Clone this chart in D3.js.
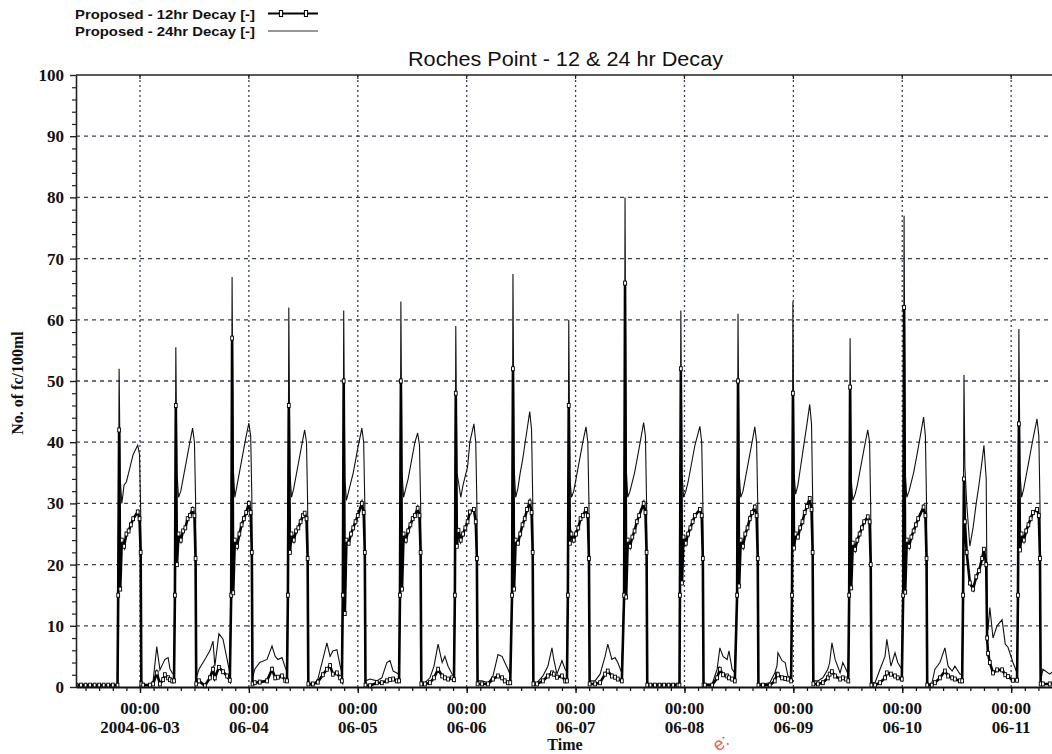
<!DOCTYPE html>
<html><head><meta charset="utf-8">
<script src="https://cdn.jsdelivr.net/npm/d3@7"></script>
<style>body{margin:0;background:#fff}svg{display:block}</style>
</head><body>
<svg id="chart" width="1052" height="754"></svg>
<script>
// time in hours from 2004-06-02 00:00
const hours = [
 10,11,12,13,14,15,16,17,18,19.05,
 19.2,19.4,19.65,20.0,20.5,21.0,21.5,22.0,22.5,23.5,23.9,24.15,24.3,
 24.7,26.2,26.9,27.7,28.4,29.1,29.5,30.2,30.6,31.1,31.5,
 31.7,31.9,32.15,32.5,33.0,33.5,34.0,34.5,35.0,35.6,36.0,36.25,36.4,
 37.0,38.3,39.4,40.1,40.5,41.4,42.3,43.2,43.8,
 44.1,44.3,44.55,44.9,45.4,45.9,46.4,46.9,47.4,48.0,48.4,48.65,48.8,
 49.3,50.4,52.0,53.1,53.8,54.4,55.3,56.0,56.4,
 56.6,56.8,57.05,57.4,57.9,58.4,58.9,59.4,59.9,60.3,60.7,60.95,61.1,
 62.1,63.2,64.3,65.2,65.9,66.5,67.4,68.1,68.5,
 68.7,68.9,69.15,69.5,70.0,70.5,71.0,71.5,72.0,72.9,73.3,73.55,73.7,
 74.7,76.2,77.3,78.4,79.1,79.8,80.6,81.1,
 81.3,81.5,81.75,82.1,82.6,83.1,83.6,84.1,84.6,85.2,85.6,85.85,86.0,
 86.8,87.9,88.8,89.7,90.6,91.2,91.9,92.8,93.2,
 93.4,93.6,93.85,94.2,94.7,95.2,95.7,96.2,96.7,97.6,98.0,98.25,98.4,
 99.4,100.7,101.8,102.9,103.8,104.4,105.1,105.6,
 106.0,106.2,106.45,106.8,107.3,107.8,108.3,108.8,109.3,109.9,110.3,110.55,110.7,
 111.5,112.8,113.9,114.8,115.2,115.9,117.0,117.7,118.1,
 118.3,118.5,118.75,119.1,119.6,120.1,120.6,121.1,121.6,122.3,122.7,122.95,123.1,
 124.3,125.4,126.5,127.1,128.0,128.7,129.3,130.2,
 130.7,130.9,131.15,131.5,132.0,132.5,133.0,133.5,134.0,135.0,135.4,135.65,135.8,
 136.5,137.5,138.5,139.5,140.5,141.5,142.5,142.9,
 143.0,143.2,143.45,143.8,144.3,144.8,145.3,145.8,146.3,147.4,147.8,148.05,148.2,
 148.5,150.1,151.2,151.8,152.5,153.4,153.8,154.5,155.1,
 155.6,155.8,156.05,156.4,156.9,157.4,157.9,158.4,158.9,159.5,159.9,160.15,160.3,
 161.3,162.8,163.9,164.4,164.6,165.5,166.2,166.8,167.5,
 167.7,167.9,168.15,168.5,169.0,169.5,170.0,170.5,171.0,171.6,172.0,172.25,172.4,
 173.4,174.5,175.6,176.0,176.5,177.2,178.3,178.9,179.6,180.1,
 180.3,180.5,180.75,181.1,181.6,182.1,182.6,183.1,183.6,184.4,184.8,185.05,185.2,
 186.0,187.1,188.2,188.6,189.5,190.4,191.0,191.9,
 192.2,192.4,192.65,193.0,193.5,194.0,194.5,195.0,195.5,196.7,197.1,197.35,197.5,
 198.5,199.2,200.3,201.4,202.1,203.0,203.6,204.7,205.2,
 205.4,205.6,205.8,206.2,206.9,207.6,208.3,208.9,209.6,210.0,210.5,210.7,210.9,211.3,212.0,212.9,214.0,214.7,215.3,216.4,217.3,
 217.5,217.7,217.95,218.3,218.8,219.3,219.8,220.3,220.8,221.7,222.1,222.35,222.5,
 223.0,224.5,226.0
];
const decay12 = [
 0.3,0.3,0.3,0.3,0.3,0.3,0.3,0.3,0.3,0.3,
 15,42,16,24,23,25,25.5,26.5,27.5,28.6,27.5,22,0.5,
 0.3,0.3,0.5,2.3,0.5,1.2,2.0,1.5,1.2,1.0,1.0,
 15,46,20,25,24,25.5,26,27.5,28,29,28,21,0.5,
 1.0,0.2,1.5,2.9,1.5,3.2,2.5,1.8,1.1,
 15,57,15.4,24,23,25,26.5,27.5,28.5,30,28.5,22,0.5,
 0.7,0.8,1.0,2.9,1.5,1.6,1.8,1.1,1.0,
 15,46,22,25,24,25.5,26,27,28,28.4,27.5,21,0.5,
 0.5,0.8,2.0,2.9,3.5,2.1,2.3,1.5,1.0,
 15,50,12,24,23.5,25,26,27,28,30,28.5,22,0.3,
 0.2,0.7,0.7,1.0,1.2,1.3,1.0,1.0,
 15,50,16,25,24,25.5,26.5,27.5,28,29.2,28,22,0.5,
 0.5,0.7,1.5,2.9,1.8,1.5,1.3,1.5,1.2,
 15,48,23,25.6,24,25,26,27,28.6,29,27,21,0.5,
 0.5,0.5,1.3,1.8,1.5,1.0,0.7,0.7,
 15,52,16,24,23.5,25,26.5,27.5,29,30.2,28.5,22,0.5,
 0.5,1.0,1.8,2.3,2.1,1.6,1.8,1.0,1.0,
 15,46,23.5,25,24,25,26,27.5,28,29,28,21,0.5,
 0.5,0.7,2.1,2.6,1.8,1.6,1.3,1.0,
 15,66,14.7,24,23,24.5,25.5,27,28,30,28.5,22,0.3,
 0.3,0.3,0.3,0.3,0.3,0.3,0.3,0.3,
 15,52,17,24.5,23.5,25,26,27,28,29,28,21,0.3,
 0.3,0.3,1.5,2.9,2.0,1.8,1.5,1.3,1.0,
 15,50,16.5,24,23,25,26,27.5,28.5,29.4,28,21,0.3,
 0.3,0.3,1.0,2.1,2.0,1.5,1.4,1.3,1.0,
 15,48,22.7,25,24.5,26,27,28.5,29.5,30.8,29,22,0.5,
 0.5,0.7,1.5,2.1,2.5,1.8,1.3,1.5,1.3,1.0,
 15,49,16.2,23.5,22.5,24,25,26,27,27.8,27,20,0.3,
 0.3,0.7,1.5,2.3,2.1,1.8,1.5,1.3,
 15,62,15.5,24,23,24.5,25.5,26.5,27.5,29.4,28,21,0.3,
 0.3,0.7,1.5,2.6,1.8,1.5,1.3,1.0,1.0,
 15,34,27,22,17,16,18,19,21,22.5,20,8,5.5,4.0,2.3,2.8,2.8,2.0,1.7,1.1,1.1,
 15,43,22.4,25,24,25.5,26.5,27.5,28.5,29,28,21,0.5,
 0.5,0.5,1.0
];
const decay24 = [
 0,0,0,0,0,0,0,0,0,0,
 16,52,34,30,33,33.5,35,36.5,38,39.5,38,29,1,
 0.3,0.2,1.0,6.6,2.8,3.9,4.5,4.8,3.0,2.3,2.0,
 16,55.5,35,31,32,34,36,38,40,42.3,40,31,1.5,
 2.9,4.5,5.9,7.5,3.4,8.7,7.8,4.5,2.3,
 16,67,36,31,33,35,37,39,41,43.1,41,31,1.5,
 2.9,4.0,4.5,6.7,5.0,4.5,4.8,3.2,2.5,
 16,62,35,31,32.5,34.5,36.5,38.5,40.5,42,40,30,0.5,
 0.2,1.3,4.5,7.2,5.0,5.9,6.1,3.5,2.3,
 16,61.5,34,30.5,32,33.5,35,37,39,42.3,40,30,1,
 1.3,1.0,1.5,4.0,4.3,2.6,2.3,2.0,
 16,63,35,31,32.5,34,36,38,40,41.5,39.5,30,0.7,
 0.7,1.5,3.4,7.0,4.0,5.0,3.4,2.1,2.0,
 16,59,35,33.5,31,33,34.5,36,40,43,40,30,1,
 1.0,0.7,1.8,5.3,5.0,4.0,2.9,2.0,
 16,67.5,36,31,32.5,35,37,39.5,42,45,42,31,0.7,
 0.7,1.8,3.4,6.4,4.5,2.1,4.3,2.9,2.5,
 16,60,34,31,32,34,36,38,40,42.5,40,30,1,
 1.0,2.1,5.0,7.0,4.5,4.8,4.0,2.3,
 16,80,36,31,32,33.5,35,37,39,43.2,41,30,0.5,
 0.5,0.5,0.5,0.5,0.5,0.5,0.5,0.5,
 16,61.5,35,31,32,33.5,35.5,37.5,39.5,42.6,40,30,0.5,
 0.5,0.5,2.9,6.4,5.0,4.5,5.9,2.9,2.3,
 16,61,35,31,32,34,36,38,40,42.5,40,30,0.5,
 0.5,0.7,2.3,3.5,5.6,4.3,4.0,1.8,1.5,
 16,63,35,31.5,33,35.5,38,40.5,43,46.2,43,31,1,
 1.0,1.5,2.9,4.0,7.2,4.5,2.3,4.0,2.9,2.0,
 16,57,34,30.5,31.5,33,35,37,39,42,40,29,0.7,
 0.7,2.9,5.0,7.8,3.4,5.6,4.0,2.9,
 16,77,35,31,32,33.5,35,37,39,44.1,41,30,0.5,
 0.5,2.9,4.0,6.4,3.4,2.6,3.4,2.1,2.0,
 16,51,36,30,23,26,30,33,37,39.5,34,13,9.3,13,8,10,11,7,6.5,4,2.3,
 16,58.5,35,31,32.5,34.5,36.5,38.5,40.5,43.8,41,30,1,
 2.9,2.1,3.0
];
const yTicks = [0,10,20,30,40,50,60,70,80,90,100];
const dayTicks = ["2004-06-03","2004-06-04","2004-06-05","2004-06-06","2004-06-07","2004-06-08","2004-06-09","2004-06-10","2004-06-11"];
const dayLabels = ["2004-06-03","06-04","06-05","06-06","06-07","06-08","06-09","06-10","06-11"];
const seriesNames = ["Proposed - 12hr Decay [-]","Proposed - 24hr Decay [-]"];
const titleText = "Roches Point - 12 & 24 hr Decay";

const svg = d3.select("#chart");
const pL = 76, pR = 1052, pT = 75, pB = 687;
const base = Date.UTC(2004,5,2);
const toDate = h => new Date(base + h*3600000);
const x = d3.scaleUtc().domain([toDate(9.9), toDate(225.0)]).range([pL, pR]);
const y = d3.scaleLinear().domain([0,100]).range([pB, pT]);
const serif = "'Liberation Serif','Times New Roman',serif";
const sans = "'Liberation Sans',Arial,sans-serif";
const gridColor = "#3b4254";

svg.append("rect").attr("width",1052).attr("height",754).attr("fill","#fff");
svg.append("defs").append("clipPath").attr("id","clip")
  .append("rect").attr("x",pL).attr("y",pT-3).attr("width",pR-pL).attr("height",pB-pT+6);

// gridlines
const dayDates = dayTicks.map(s => new Date(s + "T00:00:00Z"));
svg.append("g").selectAll("line").data(yTicks.filter(v => v > 0 && v < 100)).join("line")
  .attr("x1",pL).attr("x2",pR).attr("y1",d=>y(d)).attr("y2",d=>y(d))
  .attr("stroke",gridColor).attr("stroke-width",1.3).attr("stroke-dasharray","4,4");
svg.append("g").selectAll("line").data(dayDates).join("line")
  .attr("x1",d=>x(d)).attr("x2",d=>x(d)).attr("y1",pT).attr("y2",pB)
  .attr("stroke",gridColor).attr("stroke-width",1.3).attr("stroke-dasharray","2,3");

// top frame
svg.append("line").attr("x1",pL).attr("x2",pR).attr("y1",pT).attr("y2",pT)
  .attr("stroke","#222").attr("stroke-width",1.3);
svg.append("g").selectAll("line").data(dayDates).join("line")
  .attr("x1",d=>x(d)).attr("x2",d=>x(d)).attr("y1",pT).attr("y2",pT+4)
  .attr("stroke","#222").attr("stroke-width",1.2);

// series
const t = hours.map(toDate);
const pts12 = t.map((d,i)=>[d,decay12[i]]);
const pts24 = t.map((d,i)=>[d,decay24[i]]);
const line = d3.line().x(d=>x(d[0])).y(d=>y(d[1]));
const plot = svg.append("g").attr("clip-path","url(#clip)");
plot.append("path").attr("d",line(pts24)).attr("fill","none").attr("stroke","#111").attr("stroke-width",1.1);
plot.append("path").attr("d",line(pts12)).attr("fill","none").attr("stroke","#000").attr("stroke-width",2.6);
plot.append("g").selectAll("rect").data(pts12).join("rect")
  .attr("x",d=>x(d[0])-1.4).attr("y",d=>y(d[1])-2).attr("width",2.8).attr("height",4)
  .attr("fill","#fff").attr("stroke","#000").attr("stroke-width",0.9);

// y axis
const yAxis = svg.append("g").attr("transform",`translate(${pL},0)`)
  .call(d3.axisLeft(y).tickValues(yTicks).tickSize(6).tickSizeOuter(0).tickPadding(6));
yAxis.select(".domain").attr("stroke","#222").attr("stroke-width",1.6);
yAxis.selectAll(".tick line").attr("stroke","#222").attr("stroke-width",1.4);
yAxis.selectAll("text").attr("font-family",serif).attr("font-weight","bold").attr("font-size",17).attr("fill","#111");
const yMinor = svg.append("g").attr("transform",`translate(${pL},0)`)
  .call(d3.axisLeft(y).tickValues(d3.range(0,101,2).filter(v=>v%10!==0)).tickSize(4).tickSizeOuter(0).tickFormat(""));
yMinor.select(".domain").remove();
yMinor.selectAll(".tick line").attr("stroke","#222").attr("stroke-width",1.2);

// x axis
const xAxis = svg.append("g").attr("transform",`translate(0,${pB})`)
  .call(d3.axisBottom(x).tickValues(dayDates).tickSize(6).tickSizeOuter(0).tickFormat(""));
xAxis.select(".domain").attr("stroke","#111").attr("stroke-width",1.8);
xAxis.selectAll(".tick line").attr("stroke","#111").attr("stroke-width",1.4);
const minorTicks = d3.utcHour.every(3).range(x.domain()[0], x.domain()[1]);
const xMinor = svg.append("g").attr("transform",`translate(0,${pB})`)
  .call(d3.axisBottom(x).tickValues(minorTicks).tickSize(4).tickSizeOuter(0).tickFormat(""));
xMinor.select(".domain").remove();
xMinor.selectAll(".tick line").attr("stroke","#111").attr("stroke-width",1.2);
const xl = svg.append("g").attr("font-family",serif).attr("font-weight","bold").attr("font-size",17).attr("fill","#111").attr("text-anchor","middle");
xl.selectAll("text.a").data(dayDates).join("text").attr("class","a")
  .attr("x",d=>x(d)).attr("y",714).text(d=>d3.utcFormat("%H:%M")(d));
xl.selectAll("text.b").data(dayDates).join("text").attr("class","b")
  .attr("x",d=>x(d)).attr("y",733).text((d,i)=>dayLabels[i]);

// axis titles
svg.append("text").attr("x",565).attr("y",750).attr("text-anchor","middle")
  .attr("font-family",serif).attr("font-weight","bold").attr("font-size",16).attr("fill","#111").text("Time");
svg.append("text").attr("transform","translate(23,383) rotate(-90)").attr("text-anchor","middle")
  .attr("font-family",serif).attr("font-weight","bold").attr("font-size",16).attr("fill","#111").text("No. of fc/100ml");

// title
svg.append("text").attr("x",408).attr("y",66)
  .attr("font-family",sans).attr("font-size",21).attr("fill","#111")
  .attr("textLength",315).attr("lengthAdjust","spacingAndGlyphs").text(titleText);

// legend
const lg = svg.append("g").attr("font-family",sans).attr("font-weight","bold").attr("font-size",13.5).attr("fill","#111");
lg.append("text").attr("x",75).attr("y",19).attr("textLength",180).attr("lengthAdjust","spacingAndGlyphs").text(seriesNames[0]);
lg.append("text").attr("x",75).attr("y",36).attr("textLength",180).attr("lengthAdjust","spacingAndGlyphs").text(seriesNames[1]);
lg.append("line").attr("x1",268).attr("x2",318).attr("y1",13.5).attr("y2",13.5).attr("stroke","#000").attr("stroke-width",2.2);
lg.selectAll("rect").data([281,306]).join("rect").attr("x",d=>d-1.6).attr("y",10.5).attr("width",3.2).attr("height",6)
  .attr("fill","#fff").attr("stroke","#000").attr("stroke-width",1);
lg.append("line").attr("x1",268).attr("x2",318).attr("y1",31).attr("y2",31).attr("stroke","#333").attr("stroke-width",1);

// watermark fragment
svg.append("text").attr("transform","translate(718,752) rotate(-35)").attr("font-family",sans)
  .attr("font-size",18).attr("fill","#e8472e").attr("opacity",0.85).text("e:");
</script>
</body></html>
